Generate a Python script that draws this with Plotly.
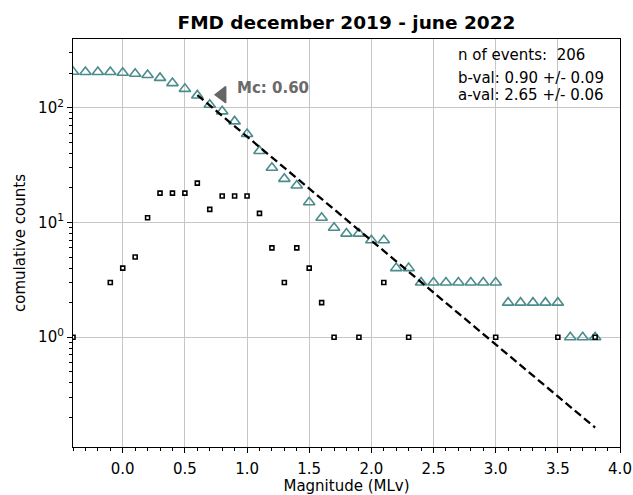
import math
import plotly.graph_objects as go

# ---------------- data ----------------
magnitudes = [-0.4, -0.3, -0.2, -0.1, 0.0, 0.1, 0.2, 0.3, 0.4, 0.5, 0.6, 0.7, 0.8, 0.9,
              1.0, 1.1, 1.2, 1.3, 1.4, 1.5, 1.6, 1.7, 1.8, 1.9, 2.0, 2.1, 2.2, 2.3, 2.4,
              2.5, 2.6, 2.7, 2.8, 2.9, 3.0, 3.1, 3.2, 3.3, 3.4, 3.5, 3.6, 3.7, 3.8]
cumulative_counts = [206, 205, 205, 205, 202, 198, 193, 182, 164, 146, 128, 106, 93, 76,
                     59, 42, 30, 24, 21, 15, 11, 9, 8, 8, 7, 7, 4, 4, 3,
                     3, 3, 3, 3, 3, 3, 2, 2, 2, 2, 2, 1, 1, 1]

bin_magnitudes = [-0.4, -0.1, 0.0, 0.1, 0.2, 0.3, 0.4, 0.5, 0.6, 0.7, 0.8, 0.9, 1.0,
                  1.1, 1.2, 1.3, 1.4, 1.5, 1.6, 1.7, 1.9, 2.1, 2.3, 3.0, 3.5, 3.8]
bin_counts = [1, 3, 4, 5, 11, 18, 18, 18, 22, 13, 17, 17, 17,
              12, 6, 3, 6, 4, 2, 1, 1, 3, 1, 1, 1, 1]

# Gutenberg-Richter fit line (end points)
fit_magnitudes = [0.60, 3.80]
fit_counts = [129.0, 0.163]

mc_label = "Mc: 0.60"
mc_marker_x = [0.80]
mc_marker_y = [130.0]
mc_text_x = 0.905
mc_text_y = 148.0

title_text = "FMD december 2019 - june 2022"
info_lines = ["n of events:  206", "b-val: 0.90 +/- 0.09", "a-val: 2.65 +/- 0.06"]

x_tickvals = [0.0, 0.5, 1.0, 1.5, 2.0, 2.5, 3.0, 3.5, 4.0]
x_ticktext = ["0.0", "0.5", "1.0", "1.5", "2.0", "2.5", "3.0", "3.5", "4.0"]
y_tickvals = [1, 10, 100]
y_ticktext = ["10<sup>0</sup>", "10<sup>1</sup>", "10<sup>2</sup>"]
y_minor = [m * 10 ** e for e in (-1, 0, 1, 2) for m in range(2, 10)]

# ---------------- figure ----------------
FONT = "DejaVu Sans"
fig = go.Figure()

fig.add_trace(go.Scatter(
    x=magnitudes, y=cumulative_counts, mode="markers",
    marker=dict(symbol="triangle-up-open", size=10, color="#4a8c8c",
                line=dict(width=1.6, color="#4a8c8c")),
    hoverinfo="skip"))

fig.add_trace(go.Scatter(
    x=bin_magnitudes, y=bin_counts, mode="markers",
    marker=dict(symbol="square", size=4, color="white",
                line=dict(width=1.6, color="black")),
    hoverinfo="skip"))

fig.add_trace(go.Scatter(
    x=fit_magnitudes, y=fit_counts, mode="lines",
    line=dict(color="black", width=2.3, dash="8px,4px"),
    hoverinfo="skip"))

fig.add_trace(go.Scatter(
    x=mc_marker_x, y=mc_marker_y, mode="markers",
    marker=dict(symbol="triangle-left", size=14, color="#666666",
                line=dict(width=1.5, color="#666666")),
    hoverinfo="skip"))

fig.add_annotation(x=mc_text_x, y=math.log10(mc_text_y), xref="x", yref="y",
                   text="<b>" + mc_label + "</b>", showarrow=False,
                   xanchor="left", yanchor="middle",
                   font=dict(family=FONT, size=15, color="#6a6a6a"))

info_y = [0.9615, 0.905, 0.8634]
for line, yy in zip(info_lines, info_y):
    fig.add_annotation(x=0.7004, y=yy, xref="paper", yref="paper", text=line,
                       showarrow=False, xanchor="left", yanchor="middle",
                       font=dict(family=FONT, size=15, color="black"))

fig.update_layout(
    width=633, height=495,
    margin=dict(l=73, r=13, t=39, b=48, autoexpand=False),
    paper_bgcolor="white", plot_bgcolor="white",
    showlegend=False,
    font=dict(family=FONT, size=15, color="black"),
    title=dict(text="<b>" + title_text + "</b>", x=0.5, xref="paper",
               y=1 - 23 / 495, yref="container", xanchor="center", yanchor="middle",
               font=dict(family=FONT, size=18.5, color="black")),
)

fig.update_xaxes(
    range=[-0.4, 4.0], tickmode="array", tickvals=x_tickvals, ticktext=x_ticktext,
    automargin=False,
    ticks="outside", ticklen=5, tickwidth=1.2, tickcolor="black",
    ticklabelstandoff=3,
    showline=True, mirror=True, linecolor="black", linewidth=1.2,
    showgrid=True, gridcolor="#c6c6c6", gridwidth=1.2, zeroline=False,
    tickfont=dict(family=FONT, size=15, color="black"),
    minor=dict(ticks="outside", ticklen=3, tickwidth=1, tickcolor="black",
               dtick=0.1, tick0=0, showgrid=False),
    title=dict(text="Magnitude (MLv)", standoff=7,
               font=dict(family=FONT, size=15, color="black")),
)

fig.update_yaxes(
    type="log", range=[-0.957, 2.599], tickmode="array", tickvals=y_tickvals,
    ticktext=y_ticktext, automargin=False,
    ticks="outside", ticklen=5, tickwidth=1.2, tickcolor="black",
    showline=True, mirror=True, linecolor="black", linewidth=1.2,
    showgrid=True, gridcolor="#c6c6c6", gridwidth=1.2, zeroline=False,
    tickfont=dict(family=FONT, size=15, color="black"),
    minor=dict(ticks="outside", ticklen=3, tickwidth=1, tickcolor="black",
               tickmode="array", tickvals=y_minor, showgrid=False),
    title=dict(text="comulative counts", standoff=8,
               font=dict(family=FONT, size=15, color="black")),
)

fig.write_html("out.html")
